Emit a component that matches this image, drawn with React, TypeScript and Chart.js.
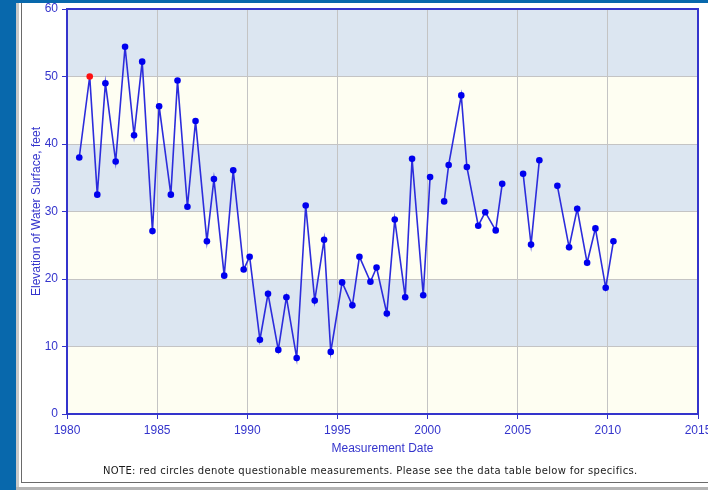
import React, { useEffect, useRef } from "react";
import { Chart, registerables } from "chart.js";

Chart.register(...registerables);

// Decimal measurement dates (years) and water surface elevations (feet); null = break in the line
const measurementDates = [
  1980.68, 1981.26, 1981.68, 1982.13, 1982.7, 1983.22, 1983.72, 1984.17, 1984.74, 1985.11,
  1985.76, 1986.13, 1986.68, 1987.13, 1987.76, 1988.15, 1988.72, 1989.22, 1989.8, 1990.13,
  1990.7, 1991.15, 1991.72, 1992.17, 1992.74, 1993.24, 1993.74, 1994.26, 1994.63, 1995.26,
  1995.83, 1996.22, 1996.83, 1997.17, 1997.74, 1998.18, 1998.76, 1999.14, 1999.76, 2000.14,
  2000.5, 2000.92, 2001.17, 2001.87, 2002.18, 2002.81, 2003.2, 2003.78, 2004.14, 2004.7,
  2005.3, 2005.74, 2006.2, 2006.7, 2007.2, 2007.85, 2008.3, 2008.85, 2009.31, 2009.88,
  2010.31,
];
const elevations: (number | null)[] = [
  38.0, 50.0, 32.5, 49.0, 37.4, 54.4, 41.3, 52.2, 27.1, 45.6,
  32.5, 49.4, 30.7, 43.4, 25.6, 34.8, 20.5, 36.1, 21.4, 23.3,
  11.0, 17.8, 9.5, 17.3, 8.3, 30.9, 16.8, 25.8, 9.2, 19.5,
  16.1, 23.3, 19.6, 21.7, 14.9, 28.8, 17.3, 37.8, 17.6, 35.1,
  null, 31.5, 36.9, 47.2, 36.6, 27.9, 29.9, 27.2, 34.1, null,
  35.6, 25.1, 37.6, null, 33.8, 24.7, 30.4, 22.4, 27.5, 18.7,
  25.6,
];
// indices of questionable measurements (red circles)
const questionableIdx = [1];

const xTicks = [1980, 1985, 1990, 1995, 2000, 2005, 2010, 2015];
const yTicks = [0, 10, 20, 30, 40, 50, 60];
const bandEdges = [0, 10, 20, 30, 40, 50, 60];

const AXIS_BLUE = "#3434cc";
const BAND_CREAM = "#fefef2";
const BAND_BLUE = "#dce6f1";
const NOTE =
  "NOTE: red circles denote questionable measurements. Please see the data table below for specifics.";

const bandsPlugin = {
  id: "bands",
  beforeDraw(chart: any) {
    const { ctx, chartArea } = chart;
    const y = chart.scales.y;
    ctx.save();
    for (let i = 0; i < bandEdges.length - 1; i++) {
      const top = y.getPixelForValue(bandEdges[i + 1]);
      const bot = y.getPixelForValue(bandEdges[i]);
      ctx.fillStyle = i % 2 === 0 ? BAND_CREAM : BAND_BLUE;
      ctx.fillRect(chartArea.left, top, chartArea.right - chartArea.left, bot - top);
    }
    ctx.restore();
  },
  afterDraw(chart: any) {
    const { ctx, chartArea } = chart;
    ctx.save();
    ctx.strokeStyle = AXIS_BLUE;
    ctx.lineWidth = 2;
    ctx.beginPath();
    ctx.moveTo(chartArea.left, chartArea.top);
    ctx.lineTo(chartArea.right, chartArea.top);
    ctx.lineTo(chartArea.right, chartArea.bottom);
    ctx.stroke();
    ctx.fillStyle = AXIS_BLUE;
    ctx.font = "12px 'Liberation Sans', Arial, sans-serif";
    ctx.textAlign = "center";
    ctx.textBaseline = "middle";
    ctx.fillText("Measurement Date", (chartArea.left + chartArea.right) / 2, 449);
    ctx.translate(37, (chartArea.top + chartArea.bottom) / 2);
    ctx.rotate(-Math.PI / 2);
    ctx.fillText("Elevation of Water Surface, feet", 0, 0);
    ctx.restore();
    ctx.save();
    ctx.fillStyle = "#1a1a1a";
    ctx.font = "10px 'DejaVu Sans', Verdana, sans-serif";
    ctx.textBaseline = "middle";
    ctx.textAlign = "left";
    const natural = ctx.measureText(NOTE).width;
    const ls = (535 - natural) / NOTE.length;
    (ctx as any).letterSpacing = ls.toFixed(2) + "px";
    ctx.fillText(NOTE, 103, 471);
    ctx.restore();
  },
};

export default function App() {
  const ref = useRef<HTMLCanvasElement | null>(null);
  useEffect(() => {
    if (!ref.current) return;
    const data = measurementDates.map((d, i) => ({ x: d, y: elevations[i] }));
    const pointColors = measurementDates.map((_, i) =>
      questionableIdx.includes(i) ? "#ff1010" : "#0000ee"
    );
    const tickFont = { family: "'Liberation Sans', Arial, sans-serif", size: 12 };
    const chart = new Chart(ref.current, {
      type: "line",
      data: {
        datasets: [
          {
            data: data as any,
            borderColor: "#2c2cdc",
            borderWidth: 1.6,
            pointBackgroundColor: pointColors,
            pointBorderColor: pointColors,
            pointRadius: 3.3,
            pointBorderWidth: 0,
            spanGaps: false,
            tension: 0,
            fill: false,
          },
        ],
      },
      options: {
        animation: false,
        responsive: false,
        devicePixelRatio: 1,
        layout: { padding: { top: 9, right: 10, left: 0, bottom: 0 } },
        plugins: { legend: { display: false }, tooltip: { enabled: false } },
        scales: {
          x: {
            type: "linear",
            min: xTicks[0],
            max: xTicks[xTicks.length - 1],
            afterBuildTicks: (s: any) => {
              s.ticks = xTicks.map((v) => ({ value: v }));
            },
            afterFit: (s: any) => {
              s.height = 76;
              s.paddingLeft = 0;
              s.paddingRight = 0;
            },
            ticks: {
              color: AXIS_BLUE,
              font: tickFont,
              padding: 4,
              maxRotation: 0,
              callback: (v: any) => String(v),
            },
            grid: { color: "#c4c4c4", lineWidth: 1, tickColor: AXIS_BLUE, tickLength: 5 },
            border: { color: AXIS_BLUE, width: 2 },
          },
          y: {
            min: yTicks[0],
            max: yTicks[yTicks.length - 1],
            afterBuildTicks: (s: any) => {
              s.ticks = yTicks.map((v) => ({ value: v }));
            },
            afterFit: (s: any) => {
              s.width = 67;
              s.paddingTop = 0;
              s.paddingBottom = 0;
            },
            ticks: {
              color: AXIS_BLUE,
              font: tickFont,
              padding: 4,
              callback: (v: any) => String(v),
            },
            grid: { color: "#c4c4c4", lineWidth: 1, tickColor: AXIS_BLUE, tickLength: 5 },
            border: { color: AXIS_BLUE, width: 2 },
          },
        },
      },
      plugins: [bandsPlugin],
    });
    return () => chart.destroy();
  }, []);

  return (
    <div
      style={{
        position: "absolute",
        left: 0,
        top: 0,
        width: 708,
        height: 490,
        background: "#0868ac",
        overflow: "hidden",
      }}
    >
      <div style={{ position: "absolute", left: 16, top: 3, right: 0, bottom: 0, background: "#ffffff" }} />
      <div style={{ position: "absolute", left: 16, top: 3, width: 3, bottom: 0, background: "#c8c8c8" }} />
      <div style={{ position: "absolute", left: 16, height: 3, right: 0, bottom: 0, background: "#b4b4b4" }} />
      <div style={{ position: "absolute", left: 21, top: 3, width: 1, height: 480, background: "#6a6a6a" }} />
      <div style={{ position: "absolute", left: 21, top: 482, right: 0, height: 1, background: "#6a6a6a" }} />
      <canvas
        ref={ref}
        width={708}
        height={490}
        style={{ position: "absolute", left: 0, top: 0, width: 708, height: 490 }}
      />
    </div>
  );
}
